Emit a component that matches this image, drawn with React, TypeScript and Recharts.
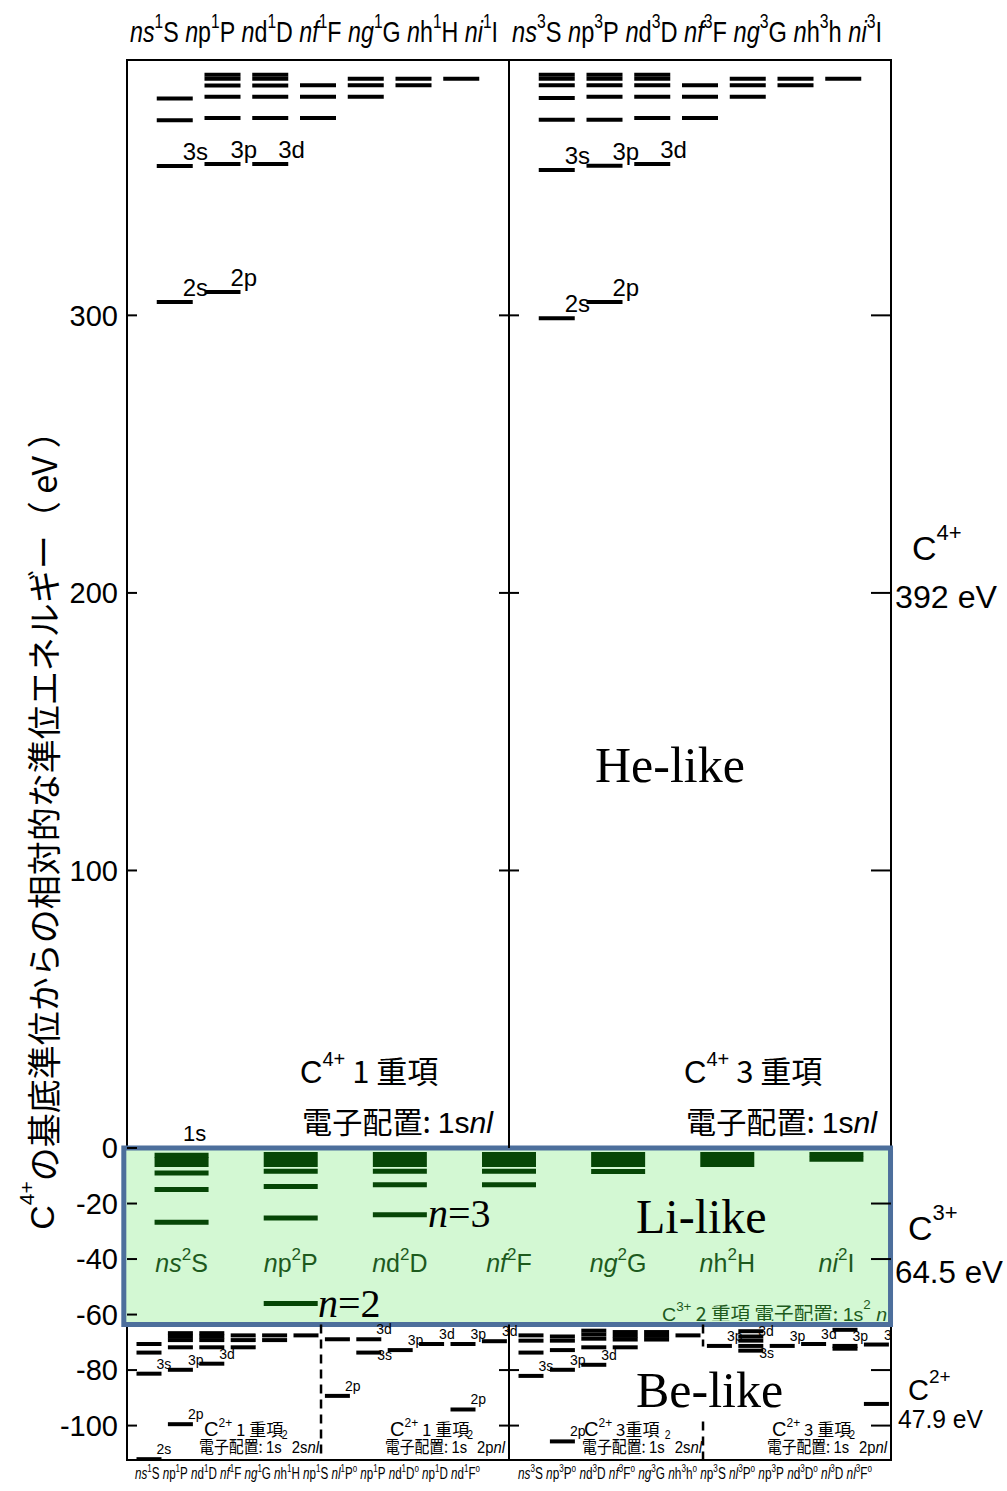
import React from 'react';
import { ComposedChart, XAxis, YAxis, Scatter, ReferenceArea, ReferenceLine } from 'recharts';

const SANS = "'Liberation Sans', Arial, 'Noto Sans CJK JP', sans-serif";
const CJK = "'Noto Sans CJK JP', 'Liberation Sans', sans-serif";
const SERIF = "'Liberation Serif', 'Times New Roman', serif";

const WIDTH = 1007;
const HEIGHT = 1491;
const MARGIN = { top: 60, right: 116, bottom: 31, left: 67 };
const Y_AXIS_W = 60;
const PLOT_LEFT = MARGIN.left + Y_AXIS_W;
const PLOT_W = WIDTH - MARGIN.right - PLOT_LEFT;
const X_MAX = 48;
const UNIT = PLOT_W / X_MAX;

// energy window: C2+ ground state up to the C4+ ionisation limit (eV)
const E_MIN = -112.4;
const E_MAX = 392;
const LI_FLOOR = -63.6;

const energyTicks = [-100, -80, -60, -40, -20, 0, 100, 200, 300];
const dividerTicks = [300, 200, 100, -80, -100];
const rightTicks = [300, 200, 100, -20, -40, -80, -100];

// ---- He-like C4+ (1snl), eV above 1s2 ----
const heOrbitals = ['s', 'p', 'd', 'f', 'g', 'h', 'i'];
const heSingletTerms = ['S', 'P', 'D', 'F', 'G', 'H', 'I'];
const heTripletTerms = ['S', 'P', 'D', 'F', 'G', 'h', 'I'];
const heSingletLevels = [
  [304.8, 353.8, 370.3, 378.1],
  [308.4, 354.5, 371.1, 378.8, 382.8, 385.2, 386.7],
  [354.5, 371.1, 378.8, 382.8, 385.2, 386.7],
  [371.1, 378.8, 382.9],
  [378.8, 382.9, 385.2],
  [382.9, 385.2],
  [385.2],
];
const heSingletTags = [['2s', '3s'], ['2p', '3p'], ['3d'], [], [], [], []];
const heTripletLevels = [
  [299.0, 352.4, 370.5, 378.3, 382.9, 385.2, 386.7],
  [304.8, 353.9, 370.5, 378.8, 382.9, 385.2, 386.7],
  [354.5, 371.1, 378.8, 382.9, 385.2, 386.7],
  [371.1, 378.8, 382.9],
  [378.8, 382.9, 385.2],
  [382.9, 385.2],
  [385.2],
];
const heTripletTags = [['2s', '3s'], ['2p', '3p'], ['3d'], [], [], [], []];

// ---- Li-like C3+ (1s2 nl) ----
const liTerms = ['S', 'P', 'D', 'F', 'G', 'H', 'I'];
const liLevels = [
  [-26.7, -14.9, -9.0, -5.9, -4.1, -2.6],
  [-56.0, -25.2, -13.9, -8.4, -5.9, -4.1, -2.3],
  [-24.0, -13.2, -8.4, -5.9, -4.1, -2.3],
  [-13.2, -8.4, -5.9, -4.1, -2.3],
  [-8.5, -5.9, -4.1, -2.3],
  [-5.9, -4.1, -2.3],
  [-4.0, -2.3],
];

// ---- Be-like C2+ (1s2 2snl | 1s2 2pnl) ----
const beSingletTerms = [
  ['s', 'S', ''], ['p', 'P', ''], ['d', 'D', ''], ['f', 'F', ''], ['g', 'G', ''], ['h', 'H', ''],
  ['p', 'S', ''], ['l', 'P', 'o'], ['p', 'P', ''], ['d', 'D', 'o'], ['p', 'D', ''], ['d', 'F', 'o'],
];
const beTripletTerms = [
  ['s', 'S', ''], ['p', 'P', 'o'], ['d', 'D', ''], ['f', 'F', 'o'], ['g', 'G', ''], ['h', 'h', 'o'],
  ['p', 'S', ''], ['l', 'P', 'o'], ['p', 'P', ''], ['d', 'D', 'o'], ['l', 'D', ''], ['l', 'F', 'o'],
];
const beSingletLevels = [
  [-112.1, -81.3, -73.7, -70.6],
  [-99.5, -79.9, -71.8, -69.2, -67.9, -66.7],
  [-77.7, -71.8, -69.2, -67.9, -66.7],
  [-71.8, -69.2, -67.5],
  [-69.2, -67.5],
  [-67.5],
  [-89.3, -68.9],
  [-73.7, -68.9],
  [-72.8],
  [-70.6],
  [-94.2, -70.6],
  [-69.6],
];
const beSingletTags = [
  ['2s', '3s'], ['2p', '3p'], ['3d'], [], [], [],
  ['2p'], ['3s', '3d'], ['3p'], ['3d'], ['2p', '3p'], ['3d'],
];
const beTripletLevels = [
  [-82.1, -73.7, -69.4, -67.5],
  [-105.7, -79.9, -72.8, -69.4, -67.9],
  [-78.1, -71.8, -68.7, -67.2, -65.8],
  [-71.8, -69.0, -67.7, -66.3],
  [-69.0, -67.7, -66.3],
  [-67.5],
  [-71.3],
  [-73.0, -71.3, -69.4, -67.9, -66.0],
  [-71.3],
  [-70.6],
  [-72.3, -71.3, -65.5],
  [-92.2, -70.8],
];
const beTripletTags = [
  ['3s'], ['2p', '3p'], ['3d'], [], [], [],
  ['3p'], ['3s', '', '3d'], ['3p'], ['3d'], ['', '3p'], ['', '3d'],
];

// column positions in x units (48 units across the frame)
const heCenter = (half: number, i: number) => half * 24 + 3 * (i + 1);
const liCenter = (i: number) => ((i + 0.5) * X_MAX) / 7;
const BE_OFFSET = 22 / UNIT;
const BE_STEP = 31.4 / UNIT;
const beCenter = (half: number, i: number) => half * 24 + BE_OFFSET + i * BE_STEP;

type LevelPoint = { x: number; y: number; tag?: string; low?: boolean };

function toPoints(levels: number[][], tags: string[][] | null, center: (i: number) => number): LevelPoint[] {
  const pts: LevelPoint[] = [];
  levels.forEach((col, i) => {
    col.forEach((e, k) => {
      const tag = tags ? tags[i][k] : undefined;
      // 3s tags of the 2pnl columns sit under their bar
      pts.push({ x: center(i), y: e, tag: tag || undefined, low: tag === '3s' && i >= 6 });
    });
  });
  return pts;
}

const heSingletPts = toPoints(heSingletLevels, heSingletTags, (i) => heCenter(0, i));
const heTripletPts = toPoints(heTripletLevels, heTripletTags, (i) => heCenter(1, i));
const liPts = toPoints(liLevels, null, liCenter);
const beSingletPts = toPoints(beSingletLevels, beSingletTags, (i) => beCenter(0, i));
const beTripletPts = toPoints(beTripletLevels, beTripletTags, (i) => beCenter(1, i));

type TagStyle = { size: number; dx: number; dy: number; lowDx: number; lowDy: number };

function levelShape(halfWidth: number, stroke: string, strokeWidth: number, tag?: TagStyle) {
  return (props: any) => {
    const { cx, cy, payload } = props;
    if (cx == null || cy == null) return <g />;
    return (
      <g>
        <line x1={cx - halfWidth} x2={cx + halfWidth} y1={cy} y2={cy} stroke={stroke} strokeWidth={strokeWidth} />
        {tag && payload && payload.tag ? (
          <text
            x={cx + halfWidth + (payload.low ? tag.lowDx : tag.dx)}
            y={cy + (payload.low ? tag.lowDy : tag.dy)}
            fontSize={tag.size}
            fontFamily={SANS}
            fill="#000"
          >
            {payload.tag}
          </text>
        ) : null}
      </g>
    );
  };
}

const heTag: TagStyle = { size: 24, dx: -10, dy: -6, lowDx: -10, lowDy: -6 };
const beTag: TagStyle = { size: 14, dx: -5, dy: -5, lowDx: -4, lowDy: 7 };

const italicOrb = new Set(['s', 'f', 'g', 'i', 'l']);
const px = (x: number) => PLOT_LEFT + x * UNIT;

// "nl ^mult L ^o" with raised multiplicity; a raised "o" is lowered again by the next term
function termRow(prefix: string, terms: string[][], mult: string, sup: number, rise: number) {
  const out: React.ReactNode[] = [];
  let pending = 0;
  terms.forEach((t, i) => {
    const [orb, term, odd] = t;
    out.push(
      <tspan key={prefix + i + 'n'} fontStyle="italic" dy={pending || undefined}>{i > 0 ? ' n' : 'n'}</tspan>,
      <tspan key={prefix + i + 'l'} fontStyle={italicOrb.has(orb) ? 'italic' : 'normal'}>{orb}</tspan>,
      <tspan key={prefix + i + 'm'} fontSize={sup} dy={-rise}>{mult}</tspan>,
      <tspan key={prefix + i + 't'} dy={rise}>{term}</tspan>
    );
    pending = 0;
    if (odd) {
      out.push(<tspan key={prefix + i + 'o'} fontSize={sup} dy={-rise}>{odd}</tspan>);
      pending = rise;
    }
  });
  return out;
}

function Overlay() {
  const beFoot = (x: number, terms: string[][], mult: string, len: number) => (
    <text x={x} y={1479} fontSize={16} fontFamily={SANS} textLength={len} lengthAdjust="spacingAndGlyphs">
      {termRow('b' + mult, terms, mult, 11, 7)}
    </text>
  );
  const beCaption = (x1: number, x2: number, mult: string, shell: string, tight: boolean) => (
    <g fontFamily={CJK} fill="#000">
      <text x={x1} y={1436} fontSize={17}>
        <tspan fontFamily={SANS} fontSize={20}>C</tspan>
        <tspan fontFamily={SANS} fontSize={12} dy={-9}>2+</tspan>
        <tspan dy={9}>{tight ? ' ' + mult + '重項' : '  ' + mult + ' 重項'}</tspan>
      </text>
      <text x={x2} y={1453} fontSize={17} textLength={120} lengthAdjust="spacingAndGlyphs">
        <tspan>電子配置: </tspan>
        <tspan fontFamily={SANS}>1s</tspan>
        <tspan fontFamily={SANS} fontSize={12} dy={-14}>2</tspan>
        <tspan fontFamily={SANS} dy={14}>{' 2' + shell}</tspan>
        <tspan fontFamily={SANS} fontStyle="italic">nl</tspan>
      </text>
    </g>
  );
  const heCaption = (x: number, mult: string) => (
    <g fill="#000">
      <text x={x} y={1083} fontSize={31} fontFamily={SANS}>
        <tspan>C</tspan>
        <tspan fontSize={20} dy={-17}>4+</tspan>
        <tspan dy={17} fontFamily={CJK}>{'  ' + mult + ' 重項'}</tspan>
      </text>
      <text x={x + 2} y={1133} fontSize={30} fontFamily={CJK} textLength={191} lengthAdjust="spacingAndGlyphs">
        <tspan>電子配置: </tspan>
        <tspan fontFamily={SANS}>1s</tspan>
        <tspan fontFamily={SANS} fontStyle="italic">nl</tspan>
      </text>
    </g>
  );
  const heSingletRow = heOrbitals.map((o, i) => [o, heSingletTerms[i], '']);
  const heTripletRow = heOrbitals.map((o, i) => [o, heTripletTerms[i], '']);
  return (
    <svg width={WIDTH} height={HEIGHT} style={{ position: 'absolute', left: 0, top: 0, pointerEvents: 'none' }}>
      <defs>
        <clipPath id="li-clip">
          <rect x={PLOT_LEFT} y={1150} width={760} height={171} />
        </clipPath>
      </defs>

      {/* column headers, He-like */}
      <text x={130} y={42} fontSize={30} fontFamily={SANS} textLength={368} lengthAdjust="spacingAndGlyphs">
        {termRow('hs', heSingletRow, '1', 20, 14)}
      </text>
      <text x={512} y={42} fontSize={30} fontFamily={SANS} textLength={370} lengthAdjust="spacingAndGlyphs">
        {termRow('ht', heTripletRow, '3', 20, 14)}
      </text>

      {/* axis title */}
      <text
        x={42}
        y={822}
        transform="rotate(-90 42 822)"
        textAnchor="middle"
        dominantBaseline="central"
        fontSize={34}
        fontFamily={CJK}
      >
        <tspan fontFamily={SANS}>C</tspan>
        <tspan fontFamily={SANS} fontSize={21} dy={-16}>4+</tspan>
        <tspan dy={16}>の基底準位からの相対的な準位エネルギー（ eV ）</tspan>
      </text>

      {/* He-like captions */}
      <text x={183} y={1141} fontSize={22} fontFamily={SANS}>1s</text>
      {heCaption(300, '1')}
      {heCaption(684, '3')}
      <text x={595} y={782} fontSize={50} fontFamily={SERIF}>He-like</text>

      {/* Li-like captions */}
      {liTerms.map((t, i) => (
        <text key={'li' + i} x={px(liCenter(i))} y={1272} fontSize={25} fontFamily={SANS} fill="#1d5a1d" textAnchor="middle">
          {termRow('lt' + i, [[heOrbitals[i], t, '']], '2', 17, 12)}
        </text>
      ))}
      <text x={636} y={1233} fontSize={48} fontFamily={SERIF}>Li-like</text>
      <text x={428} y={1227} fontSize={40} fontFamily={SERIF}>
        <tspan fontStyle="italic">n</tspan>=3
      </text>
      <text x={318} y={1317} fontSize={40} fontFamily={SERIF}>
        <tspan fontStyle="italic">n</tspan>=2
      </text>
      <g clipPath="url(#li-clip)">
        <text x={662} y={1321} fontSize={19} fontFamily={CJK} fill="#1d5a1d" textLength={236} lengthAdjust="spacingAndGlyphs">
          <tspan fontFamily={SANS}>C</tspan>
          <tspan fontFamily={SANS} fontSize={13} dy={-10}>3+</tspan>
          <tspan dy={10}> 2 重項 電子配置: </tspan>
          <tspan fontFamily={SANS}>1s</tspan>
          <tspan fontFamily={SANS} fontSize={13} dy={-12}>2</tspan>
          <tspan fontFamily={SANS} fontStyle="italic" dy={12}> nl-</tspan>
        </text>
      </g>

      {/* Be-like captions */}
      <text x={636} y={1407} fontSize={50} fontFamily={SERIF}>Be-like</text>
      {beCaption(204, 199, '1', 's', false)}
      {beCaption(390, 385, '1', 'p', false)}
      {beCaption(584, 582, '3', 's', true)}
      {beCaption(772, 767, '3', 'p', false)}
      {beFoot(135, beSingletTerms, '1', 345)}
      {beFoot(518, beTripletTerms, '3', 354)}

      {/* ionisation energies */}
      <g fontFamily={SANS} fill="#000">
        <text x={912} y={560} fontSize={34}>
          C<tspan fontSize={22} dy={-20}>4+</tspan>
        </text>
        <text x={895} y={608} fontSize={31} textLength={102} lengthAdjust="spacingAndGlyphs">392 eV</text>
        <text x={908} y={1240} fontSize={34}>
          C<tspan fontSize={22} dy={-20}>3+</tspan>
        </text>
        <text x={895} y={1283} fontSize={31} textLength={108} lengthAdjust="spacingAndGlyphs">64.5 eV</text>
        <text x={908} y={1400} fontSize={29}>
          C<tspan fontSize={19} dy={-17}>2+</tspan>
        </text>
        <text x={898} y={1428} fontSize={25} textLength={85} lengthAdjust="spacingAndGlyphs">47.9 eV</text>
      </g>
    </svg>
  );
}

const tickLen = 10 / UNIT;
const BE_DASH_LEFT = 12.19;
const BE_DASH_RIGHT = 36.19;

export default function App() {
  return (
    <div style={{ position: 'absolute', left: 0, top: 0, width: WIDTH, height: HEIGHT, background: '#fff' }}>
      <ComposedChart width={WIDTH} height={HEIGHT} margin={MARGIN}>
        <XAxis type="number" dataKey="x" domain={[0, X_MAX]} hide allowDataOverflow />
        <YAxis
          type="number"
          dataKey="y"
          domain={[E_MIN, E_MAX]}
          ticks={energyTicks}
          interval={0}
          width={Y_AXIS_W}
          tickLine={false}
          axisLine={false}
          tickSize={0}
          tickMargin={9}
          allowDataOverflow
          tick={{ fontSize: 29, fill: '#000', fontFamily: SANS }}
        />

        {/* frame and panel dividers */}
        <ReferenceArea x1={0} x2={X_MAX} y1={E_MIN} y2={E_MAX} fill="none" stroke="#000" strokeWidth={2} fillOpacity={0} />
        <ReferenceLine segment={[{ x: 24, y: 0 }, { x: 24, y: E_MAX }]} stroke="#000" strokeWidth={2} />
        <ReferenceLine segment={[{ x: 24, y: LI_FLOOR }, { x: 24, y: E_MIN }]} stroke="#000" strokeWidth={2} />
        <ReferenceLine segment={[{ x: BE_DASH_LEFT, y: LI_FLOOR }, { x: BE_DASH_LEFT, y: E_MIN }]} stroke="#000" strokeWidth={2.5} strokeDasharray="9 6" />
        {/* right dashed divider is broken by the Be-like caption */}
        <ReferenceLine segment={[{ x: BE_DASH_RIGHT, y: LI_FLOOR }, { x: BE_DASH_RIGHT, y: -71.5 }]} stroke="#000" strokeWidth={2.5} strokeDasharray="9 6" />
        <ReferenceLine segment={[{ x: BE_DASH_RIGHT, y: -98.5 }, { x: BE_DASH_RIGHT, y: E_MIN }]} stroke="#000" strokeWidth={2.5} strokeDasharray="9 6" />

        {/* Li-like panel */}
        <ReferenceArea
          x1={-0.2}
          x2={X_MAX - 0.03}
          y1={LI_FLOOR}
          y2={0}
          fill="#d3f8d3"
          fillOpacity={1}
          stroke="#4d6f9c"
          strokeWidth={5}
          ifOverflow="visible"
        />

        {/* tick marks */}
        {energyTicks.map((t) => (
          <ReferenceLine key={'lt' + t} segment={[{ x: 0, y: t }, { x: tickLen, y: t }]} stroke="#000" strokeWidth={2} />
        ))}
        {dividerTicks.map((t) => (
          <ReferenceLine key={'dt' + t} segment={[{ x: 24 - tickLen, y: t }, { x: 24 + tickLen, y: t }]} stroke="#000" strokeWidth={2} />
        ))}
        {rightTicks.map((t) => (
          <ReferenceLine key={'rt' + t} segment={[{ x: X_MAX - tickLen * 2, y: t }, { x: X_MAX, y: t }]} stroke="#000" strokeWidth={2} />
        ))}

        <Scatter data={heSingletPts} isAnimationActive={false} shape={levelShape(18, '#000', 4, heTag)} />
        <Scatter data={heTripletPts} isAnimationActive={false} shape={levelShape(18, '#000', 4, heTag)} />
        <Scatter data={liPts} isAnimationActive={false} shape={levelShape(27, '#064606', 5)} />
        <Scatter data={beSingletPts} isAnimationActive={false} shape={levelShape(12.5, '#000', 4, beTag)} />
        <Scatter data={beTripletPts} isAnimationActive={false} shape={levelShape(12.5, '#000', 4, beTag)} />
      </ComposedChart>
      <Overlay />
    </div>
  );
}
